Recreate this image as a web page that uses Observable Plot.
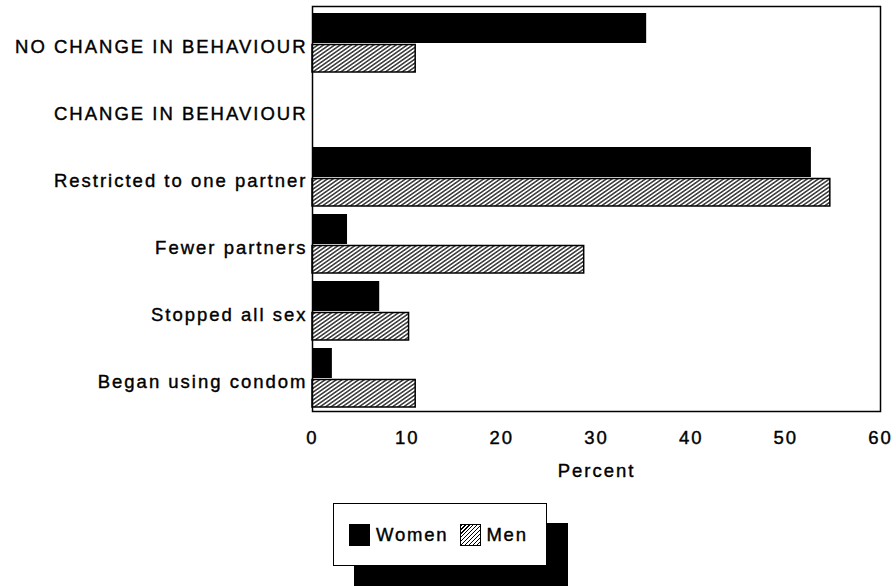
<!DOCTYPE html>
<html>
<head>
<meta charset="utf-8">
<script src="https://cdn.jsdelivr.net/npm/d3@7"></script>
<script src="https://cdn.jsdelivr.net/npm/@observablehq/plot@0.6"></script>
<style>
  html, body { margin: 0; padding: 0; background: #fff; }
  body { width: 896px; height: 586px; overflow: hidden; font-family: "Liberation Sans", Arial, sans-serif; }
  #chart svg text { stroke: #000; stroke-width: 0.4px; }
  #legend {
    position: relative; left: 333px; top: 13px;
    width: 212px; height: 61px;
    border: 1.5px solid #000; background: #fff;
    box-shadow: 21px 20px 0 #000;
    display: flex; align-items: center;
    font-size: 18.5px; letter-spacing: 1.8px; color: #000;
    -webkit-text-stroke: 0.4px #000;
  }
  .sw { display: inline-block; width: 21px; height: 22px; box-sizing: border-box; }
  .sw.w { background: #000; margin-left: 15px; margin-right: 6px; }
  .sw.m { border: 1.5px solid #000; margin-left: 12px; margin-right: 5px;
          background: repeating-linear-gradient(-45deg, #fff 0 1.6px, #000 1.6px 2.8px); }
</style>
</head>
<body>
<div id="chart"></div>
<div id="legend"><span class="sw w"></span><span>Women</span><span class="sw m"></span><span>Men</span></div>
<script>
const categories = [
  "NO CHANGE IN BEHAVIOUR",
  "CHANGE IN BEHAVIOUR",
  "Restricted to one partner",
  "Fewer partners",
  "Stopped all sex",
  "Began using condom"
];
const women = [35.3, null, 52.7, 3.7, 7.1, 2.1];
const men = [10.9, null, 54.7, 28.7, 10.2, 10.9];
const xTicks = [0, 10, 20, 30, 40, 50, 60];
const seriesNames = ["Women", "Men"];

const rows = categories.map((c, i) => ({category: c, women: women[i], men: men[i]}));
const womenRows = rows.filter(d => d.women != null);
const menRows = rows.filter(d => d.men != null);

const plot = Plot.plot({
  width: 896,
  height: 490,
  marginLeft: 312,
  marginRight: 16,
  marginTop: 6,
  marginBottom: 79,
  style: {fontFamily: "Liberation Sans, Arial, sans-serif", fontSize: "18.5px", letterSpacing: "2px", color: "#000", background: "#fff"},
  x: {domain: [0, 60], label: null},
  y: {domain: categories, padding: 0, label: null},
  marks: [
    Plot.barX(womenRows, {y: "category", x: "women", fill: "#000", insetTop: 5, insetBottom: 32}),
    Plot.barX(menRows, {y: "category", x: "men", fill: "url(#hatch)", stroke: "#000", strokeWidth: 1.5, insetTop: 36.5, insetBottom: 3}),
    Plot.frame({stroke: "#000", strokeWidth: 1.5}),
    Plot.axisX({ticks: xTicks, tickSize: 0, tickPadding: 19, fontSize: 18.5, label: "Percent", labelAnchor: "center", labelOffset: 65, labelArrow: false}),
    Plot.axisY({tickSize: 0, tickPadding: 5, dy: 5, fontSize: 18.5, label: null})
  ]
});

const svg = d3.select(plot);
svg.insert("defs", ":first-child").html(
  '<pattern id="hatch" patternUnits="userSpaceOnUse" width="8" height="3.2" patternTransform="rotate(-35)">' +
  '<rect width="8" height="3.2" fill="#fff"/>' +
  '<line x1="0" y1="1.6" x2="8" y2="1.6" stroke="#000" stroke-width="1.2"/>' +
  '</pattern>'
);
document.getElementById("chart").appendChild(plot);
</script>
</body>
</html>
